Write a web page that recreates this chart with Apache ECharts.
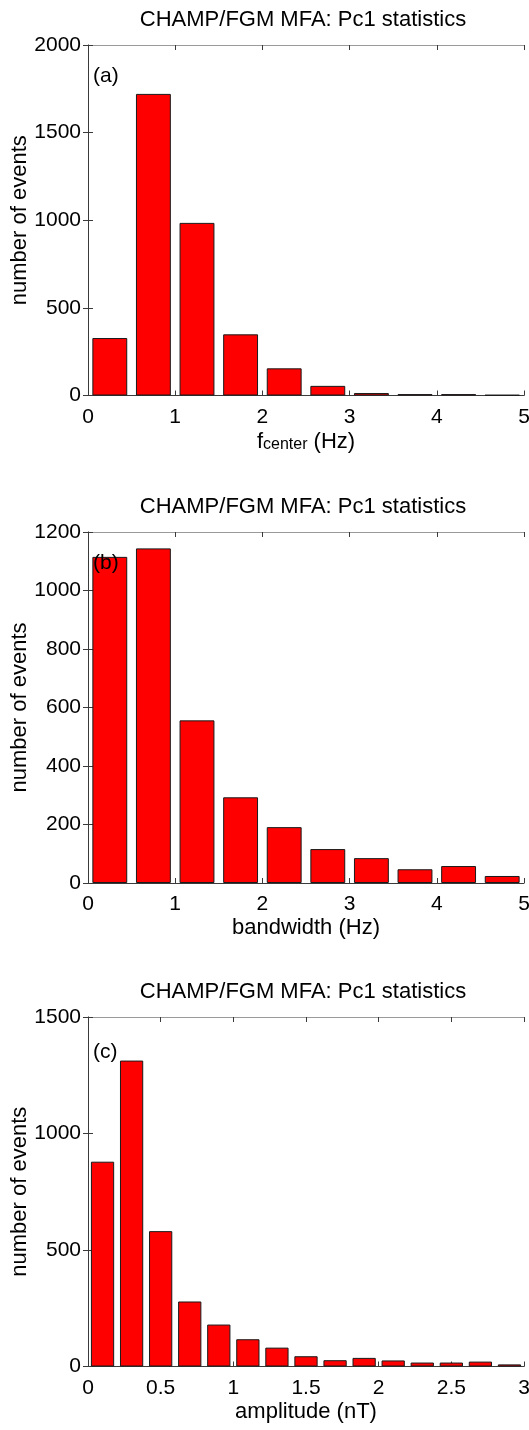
<!DOCTYPE html>
<html>
<head>
<meta charset="utf-8">
<title>CHAMP/FGM MFA: Pc1 statistics</title>
<script src="https://cdn.jsdelivr.net/npm/echarts@6/dist/echarts.min.js"></script>
<style>
  html, body { margin: 0; padding: 0; background: #fff; }
  #chart { width: 529px; height: 1430px; }
</style>
</head>
<body>
<div id="chart"></div>
<script>
// Histogram bin centres and event counts for the three panels
const freqBins = ['0.25', '0.75', '1.25', '1.75', '2.25', '2.75', '3.25', '3.75', '4.25', '4.75'];
const freqCounts = [328, 1721, 985, 349, 155, 55, 14, 8, 8, 3];

const bandBins = ['0.25', '0.75', '1.25', '1.75', '2.25', '2.75', '3.25', '3.75', '4.25', '4.75'];
const bandCounts = [1115, 1144, 556, 293, 191, 116, 85, 47, 58, 24];

const ampBins = ['0.1', '0.3', '0.5', '0.7', '0.9', '1.1', '1.3', '1.5', '1.7', '1.9', '2.1', '2.3', '2.5', '2.7', '2.9'];
const ampCounts = [879, 1313, 581, 279, 180, 117, 81, 44, 27, 37, 26, 17, 17, 21, 9];

// Axis ranges and tick steps
const xRanges = [[0, 5, 1], [0, 5, 1], [0, 3, 0.5]];
const yRanges = [[0, 2000, 500], [0, 1200, 200], [0, 1500, 500]];

const titleText = 'CHAMP/FGM MFA: Pc1 statistics';
const panelTags = ['(a)', '(b)', '(c)'];
const xNames = ['{f|f}{sub|center}{u| (Hz)}', 'bandwidth (Hz)', 'amplitude (nT)'];
const yName = 'number of events';

const FONT = '"Liberation Sans", Arial, Helvetica, sans-serif';
const DARK = '#3a3a3a';
const LIGHT = '#9a9a9a';

const panels = [
  { bins: freqBins, counts: freqCounts },
  { bins: bandBins, counts: bandCounts },
  { bins: ampBins, counts: ampCounts }
];

const gridTops = [45, 532, 1017];
const gridHeights = [350.5, 351, 349.5];
const GRID_LEFT = 88, GRID_RIGHT = 5;

const plainNumber = v => String(v);

const grids = [], xAxes = [], yAxes = [], series = [], graphics = [];

panels.forEach((p, i) => {
  grids.push({
    left: GRID_LEFT, right: GRID_RIGHT, top: gridTops[i], height: gridHeights[i],
    containLabel: false, outerBoundsMode: 'none'
  });
  const [xmin, xmax, xstep] = xRanges[i];
  const [ymin, ymax, ystep] = yRanges[i];

  const catIdx = xAxes.length;
  // band axis that positions the histogram bars
  xAxes.push({ gridIndex: i, type: 'category', data: p.bins, boundaryGap: true, show: false });
  // visible bottom axis
  xAxes.push({
    gridIndex: i, type: 'value', position: 'bottom', min: xmin, max: xmax, interval: xstep,
    axisLine: { show: true, lineStyle: { color: DARK, width: 1 } },
    axisTick: { show: true, inside: true, length: 5, lineStyle: { color: DARK } },
    splitLine: { show: false },
    axisLabel: { show: true, color: '#000', fontFamily: FONT, fontSize: 21, margin: 11, formatter: plainNumber, showMinLabel: true, showMaxLabel: true, hideOverlap: false },
    name: xNames[i], nameLocation: 'middle', nameGap: i === 0 ? 35 : 34, nameMoveOverlap: false,
    nameTextStyle: i === 0 ? {
      color: '#000', fontFamily: FONT, fontSize: 22,
      rich: {
        f: { fontFamily: FONT, fontSize: 22, color: '#000', verticalAlign: 'top', lineHeight: 22 },
        sub: { fontFamily: FONT, fontSize: 16, color: '#000', verticalAlign: 'bottom', lineHeight: 16 },
        u: { fontFamily: FONT, fontSize: 22, color: '#000', verticalAlign: 'top', lineHeight: 22 }
      }
    } : { color: '#000', fontFamily: FONT, fontSize: 22 }
  });
  // top frame axis
  xAxes.push({
    gridIndex: i, type: 'value', position: 'top', min: xmin, max: xmax, interval: xstep,
    axisLine: { show: true, lineStyle: { color: LIGHT, width: 1 } },
    axisTick: { show: true, inside: true, length: 5, lineStyle: { color: DARK } },
    splitLine: { show: false }, axisLabel: { show: false }
  });

  const yIdx = yAxes.length;
  yAxes.push({
    gridIndex: i, type: 'value', position: 'left', min: ymin, max: ymax, interval: ystep,
    axisLine: { show: true, lineStyle: { color: LIGHT, width: 1 } },
    axisTick: { show: true, inside: true, length: 5, lineStyle: { color: DARK } },
    splitLine: { show: false },
    axisLabel: { show: true, color: '#000', fontFamily: FONT, fontSize: 21, margin: 7, padding: [8, 0, 0, 0], formatter: plainNumber, showMinLabel: true, showMaxLabel: true },
    name: yName, nameLocation: 'middle', nameGap: 57, nameRotate: 90, nameMoveOverlap: false,
    nameTextStyle: { color: '#000', fontFamily: FONT, fontSize: 22 }
  });
  // right frame axis
  yAxes.push({
    gridIndex: i, type: 'value', position: 'right', min: ymin, max: ymax, interval: ystep,
    axisLine: { show: true, lineStyle: { color: DARK, width: 1 } },
    axisTick: { show: true, inside: true, length: 5, lineStyle: { color: DARK } },
    splitLine: { show: false }, axisLabel: { show: false }
  });

  series.push({
    type: 'bar', xAxisIndex: catIdx, yAxisIndex: yIdx,
    data: p.counts, barCategoryGap: '20%',
    itemStyle: { color: '#ff0000', borderColor: '#1a1a1a', borderWidth: 1 },
    silent: true, animation: false
  });

  // panel title
  graphics.push({
    type: 'text', x: 303, y: gridTops[i] - 25, z: 100,
    style: { text: titleText, fill: '#000', font: '22px ' + FONT, textAlign: 'center', textVerticalAlign: 'middle' }
  });
});

// panel tags
const tagOffsets = [31, 31, 35];
panelTags.forEach((t, i) => {
  graphics.push({
    type: 'text', x: 93, y: gridTops[i] + tagOffsets[i], z: 100,
    style: { text: t, fill: '#000', font: '21px ' + FONT, textAlign: 'left', textVerticalAlign: 'middle' }
  });
});

const chart = echarts.init(document.getElementById('chart'), null, { renderer: 'canvas' });
chart.setOption({
  animation: false,
  backgroundColor: '#fff',
  grid: grids,
  xAxis: xAxes,
  yAxis: yAxes,
  series: series,
  graphic: graphics
});
</script>
</body>
</html>
